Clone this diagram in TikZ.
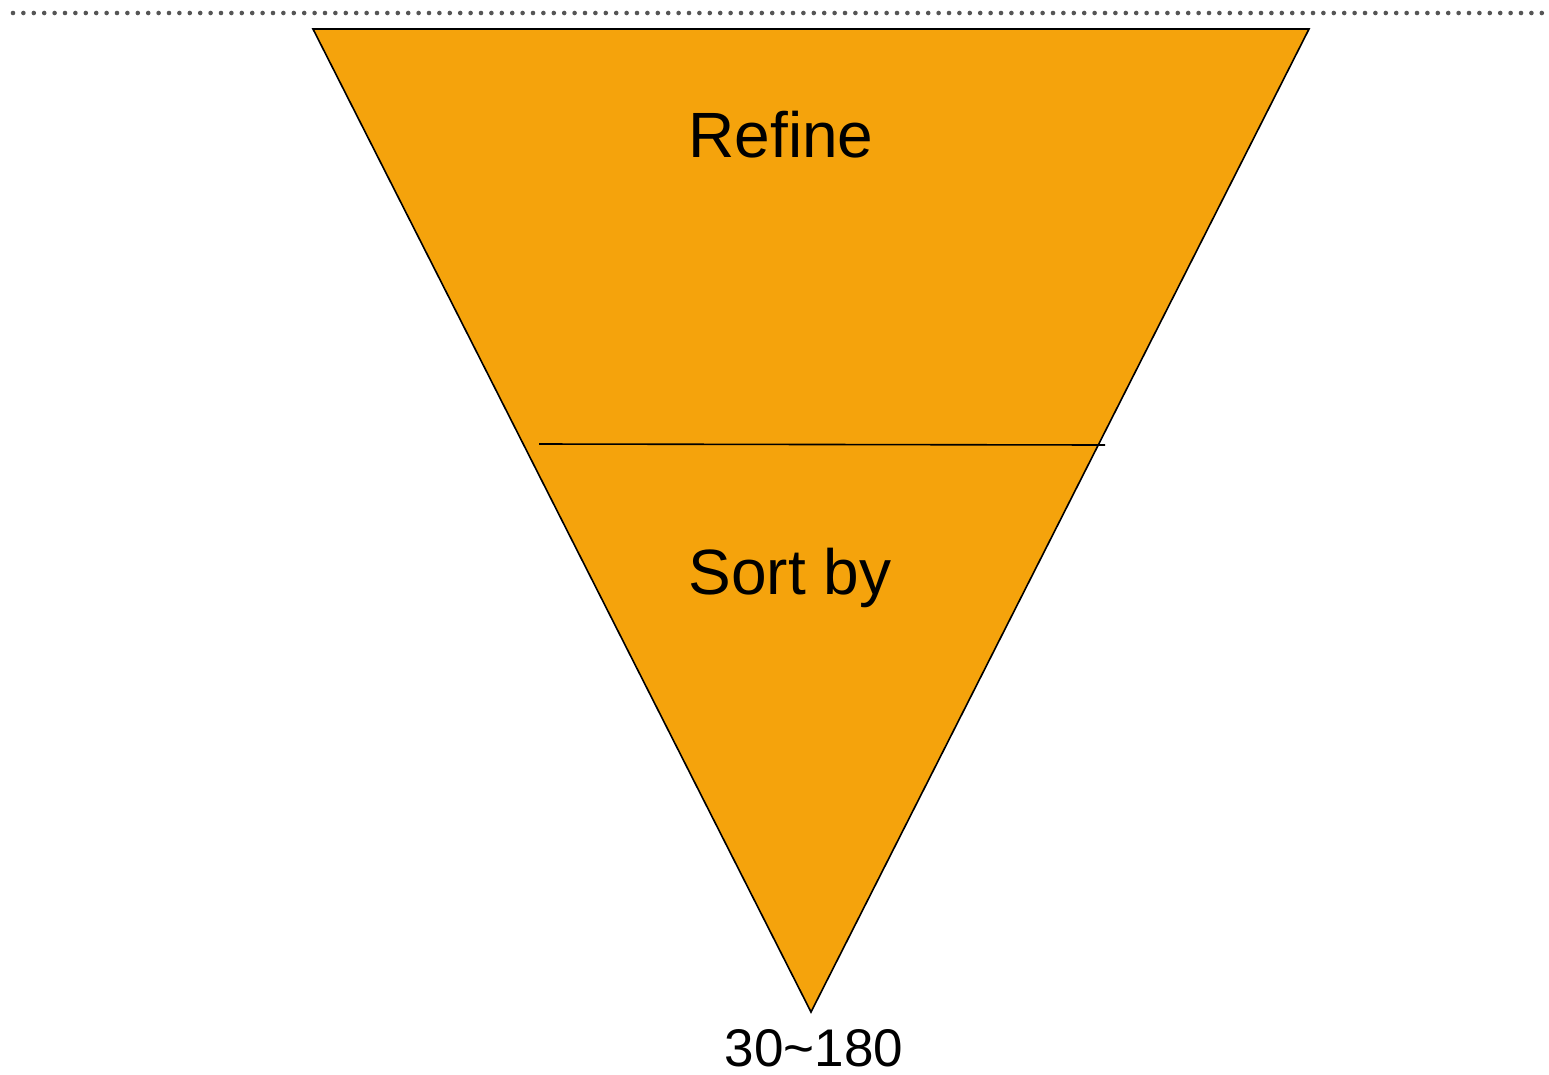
\documentclass[tikz,border=0pt]{standalone}
\usepackage{fontspec}
\setmainfont{Liberation Sans}
\definecolor{funnel}{HTML}{F5A30C}
\definecolor{dotgray}{HTML}{555555}
\begin{document}
\begin{tikzpicture}[x=1pt,y=-1pt,
  lbl/.style={font=\fontsize{64}{64}\selectfont, anchor=base, inner sep=0pt},
  small/.style={font=\fontsize{53}{53}\selectfont, anchor=base, inner sep=0pt}]
\useasboundingbox (0,0) rectangle (1549,1074);
\foreach \i in {0,...,148} {
  \fill[dotgray] (13+\i*10.4,13) circle (2.3);
}
\coordinate (tl) at (313,29);
\coordinate (tr) at (1309,29);
\coordinate (bt) at (811,1012);
\filldraw[fill=funnel, draw=black, line width=1.6, line join=miter] (tl) -- (tr) -- (bt) -- cycle;
\coordinate (ml) at (539,444);
\coordinate (mr) at (1105,445);
\draw[black, line width=1.6] (ml) -- (mr);
\node[lbl] (refine) at (781,157) {Refine};
\node[lbl] (sortby) at (790,594) {Sort by};
\node[small] (range) at (814,1066) {30\char`~180};
\end{tikzpicture}
\end{document}
